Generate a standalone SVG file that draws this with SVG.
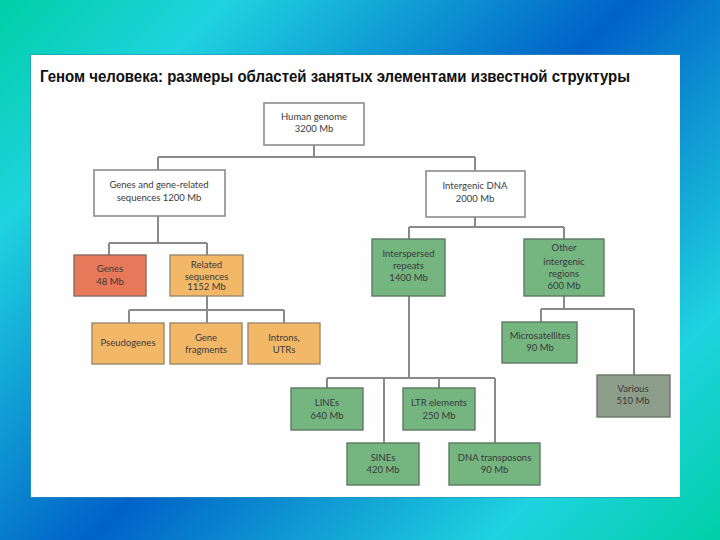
<svg xmlns="http://www.w3.org/2000/svg" width="720" height="540" viewBox="0 0 720 540">
<defs>
<linearGradient id="bg" gradientUnits="userSpaceOnUse" x1="0" y1="0" x2="630" y2="630">
<stop offset="0" stop-color="#00cfa6"/>
<stop offset="0.18" stop-color="#1fd3df"/>
<stop offset="0.5" stop-color="#0062c8"/>
<stop offset="0.82" stop-color="#1fd3df"/>
<stop offset="1" stop-color="#00cfa6"/>
</linearGradient>
<style>
.t{font-family:Lato,"Open Sans","Liberation Sans",sans-serif;font-size:9.5px;fill:#3a3a3a;text-anchor:middle}
.w{fill:#ffffff;stroke:#8c8c8c;stroke-width:1.6}
.r{fill:#e8785a;stroke:#8a6a5e;stroke-width:1.4}
.o{fill:#f2b868;stroke:#9a8a6e;stroke-width:1.4}
.g{fill:#74b580;stroke:#5d7a63;stroke-width:1.4}
.v{fill:#8c9e89;stroke:#6b7569;stroke-width:1.4}
.c{fill:none;stroke:#8a8a8a;stroke-width:2}
</style>
</defs>
<rect x="0" y="0" width="720" height="540" fill="url(#bg)"/>
<rect x="30" y="54" width="650" height="444" fill="#2f8fa8" opacity="0.6"/>
<rect x="31" y="55" width="649" height="442" fill="#fefefe"/>
<text x="40" y="82" font-family="'Liberation Sans',Arial,sans-serif" font-weight="bold" font-size="17" fill="#111" textLength="590" lengthAdjust="spacingAndGlyphs">Геном человека: размеры областей занятых элементами известной структуры</text>

<g id="connectors">
<path class="c" d="M314 145V157M158 157H475M158 157V170M475 157V171"/>
<path class="c" d="M158 216V243M109 243H207M109 243V255M207 243V255"/>
<path class="c" d="M207 296V310M129 310H284M129 310V323M207 310V323M284 310V323"/>
<path class="c" d="M475 217V227M409 227H564M409 227V239M564 227V239"/>
<path class="c" d="M564 296V309M541 309H634M541 309V322M634 309V375"/>
<path class="c" d="M409 296V378M327 378H495M327 378V388M439 378V388M384 378V443M495 378V443"/>
</g>

<g id="human-genome"><rect class="w" x="264" y="103" width="100" height="42"/><text class="t" x="314" y="120">Human genome</text><text class="t" x="314" y="132">3200 Mb</text></g>
<g id="genes-related"><rect class="w" x="94" y="170" width="131" height="46"/><text class="t" x="159" y="188">Genes and gene-related</text><text class="t" x="159" y="201">sequences 1200 Mb</text></g>
<g id="intergenic"><rect class="w" x="426" y="171" width="99" height="46"/><text class="t" x="475" y="189">Intergenic DNA</text><text class="t" x="475" y="202">2000 Mb</text></g>

<g id="genes"><rect class="r" x="74" y="255" width="72" height="41"/><text class="t" x="110" y="272">Genes</text><text class="t" x="110" y="285">48 Mb</text></g>
<g id="related"><rect class="o" x="170" y="255" width="73" height="41"/><text class="t" x="206.5" y="268">Related</text><text class="t" x="206.5" y="279.5">sequences</text><text class="t" x="206.5" y="290">1152 Mb</text></g>

<g id="pseudogenes"><rect class="o" x="92" y="323" width="72" height="41"/><text class="t" x="128" y="346">Pseudogenes</text></g>
<g id="gene-fragments"><rect class="o" x="170" y="323" width="72" height="41"/><text class="t" x="206" y="340.5">Gene</text><text class="t" x="206" y="352.5">fragments</text></g>
<g id="introns"><rect class="o" x="248" y="323" width="72" height="41"/><text class="t" x="284" y="340.5">Introns,</text><text class="t" x="284" y="352.5">UTRs</text></g>

<g id="interspersed"><rect class="g" x="372" y="239" width="73" height="57"/><text class="t" x="408.5" y="257">Interspersed</text><text class="t" x="408.5" y="269">repeats</text><text class="t" x="408.5" y="281">1400 Mb</text></g>
<g id="other-intergenic"><rect class="g" x="524" y="239" width="80" height="57"/><text class="t" x="564" y="251">Other</text><text class="t" x="564" y="264.5">intergenic</text><text class="t" x="564" y="277">regions</text><text class="t" x="564" y="289">600 Mb</text></g>

<g id="microsatellites"><rect class="g" x="502" y="322" width="75" height="41"/><text class="t" x="540" y="339">Microsatellites</text><text class="t" x="540" y="351">90 Mb</text></g>
<g id="various"><rect class="v" x="597" y="375" width="73" height="42"/><text class="t" x="633" y="392">Various</text><text class="t" x="633" y="404">510 Mb</text></g>

<g id="lines"><rect class="g" x="291" y="388" width="72" height="42"/><text class="t" x="327" y="406">LINEs</text><text class="t" x="327" y="418.5">640 Mb</text></g>
<g id="ltr"><rect class="g" x="403" y="388" width="72" height="42"/><text class="t" x="439" y="406">LTR elements</text><text class="t" x="439" y="418.5">250 Mb</text></g>
<g id="sines"><rect class="g" x="347" y="443" width="72" height="42"/><text class="t" x="383" y="461">SINEs</text><text class="t" x="383" y="473">420 Mb</text></g>
<g id="dna-transposons"><rect class="g" x="449" y="443" width="91" height="42"/><text class="t" x="494.5" y="461">DNA transposons</text><text class="t" x="494.5" y="473">90 Mb</text></g>
</svg>
